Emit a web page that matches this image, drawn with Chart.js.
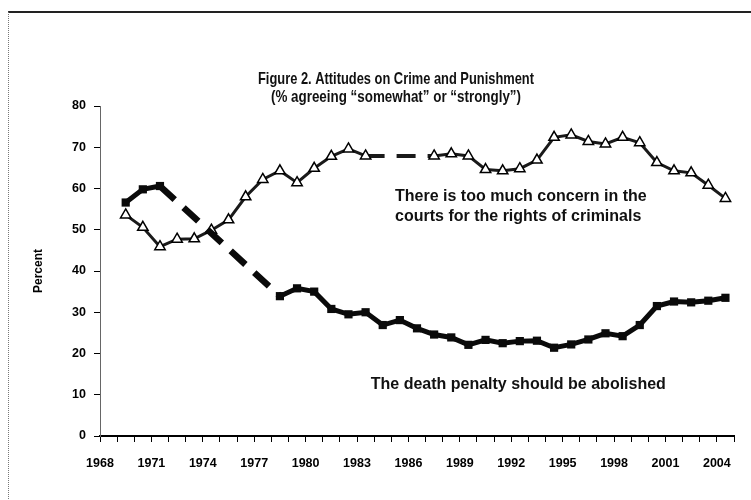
<!DOCTYPE html>
<html>
<head>
<meta charset="utf-8">
<script src="https://cdn.jsdelivr.net/npm/chart.js@4"></script>
<style>
  html, body { margin: 0; padding: 0; background: #fff; }
  #wrap { position: relative; width: 751px; height: 500px; overflow: hidden; }
  #frame {
    position: absolute; left: 8px; top: 11px; width: 800px; height: 600px;
    border-top: 2px solid #222; border-left: 1px dotted #777;
    pointer-events: none;
  }
</style>
</head>
<body>
<div id="wrap">
  <canvas id="chartCrime" width="751" height="500"></canvas>
  <div id="frame"></div>
</div>
<script>
// ---- data (points sit mid-year) ----
const concernYears = [
  1969.5, 1970.5, 1971.5, 1972.5, 1973.5, 1974.5, 1975.5, 1976.5, 1977.5, 1978.5,
  1979.5, 1980.5, 1981.5, 1982.5, 1983.5,
  1987.5, 1988.5, 1989.5, 1990.5, 1991.5, 1992.5, 1993.5, 1994.5, 1995.5, 1996.5,
  1997.5, 1998.5, 1999.5, 2000.5, 2001.5, 2002.5, 2003.5, 2004.5
];
const concernValues = [
  53.6, 50.6, 45.9, 47.7, 47.8, 49.9, 52.4, 58.0, 62.2, 64.3,
  61.4, 64.9, 67.8, 69.6, 67.9,
  67.9, 68.4, 67.9, 64.6, 64.3, 64.8, 66.9, 72.4, 73.0, 71.4,
  70.8, 72.4, 71.1, 66.3, 64.3, 63.8, 60.8, 57.6
];

const deathYears = [
  1969.5, 1970.5, 1971.5,
  1978.5, 1979.5, 1980.5, 1981.5, 1982.5, 1983.5, 1984.5, 1985.5, 1986.5, 1987.5,
  1988.5, 1989.5, 1990.5, 1991.5, 1992.5, 1993.5, 1994.5, 1995.5, 1996.5, 1997.5,
  1998.5, 1999.5, 2000.5, 2001.5, 2002.5, 2003.5, 2004.5
];
const deathValues = [
  56.6, 59.8, 60.6,
  33.9, 35.8, 35.0, 30.8, 29.5, 30.0, 26.9, 28.1, 26.1, 24.6,
  23.9, 22.1, 23.3, 22.5, 23.0, 23.1, 21.4, 22.2, 23.4, 24.9,
  24.2, 26.9, 31.5, 32.6, 32.4, 32.8, 33.5
];

const xTickLabels = [1968, 1971, 1974, 1977, 1980, 1983, 1986, 1989, 1992, 1995, 1998, 2001, 2004];

const titleLines = [
  'Figure 2. Attitudes on Crime and Punishment',
  '(% agreeing \u201csomewhat\u201d or \u201cstrongly\u201d)'
];
const concernLabel = ['There is too much concern in the', 'courts for the rights of criminals'];
const deathLabel = 'The death penalty should be abolished';

const FONT = '"Liberation Sans", Arial, Helvetica, sans-serif';

function toPoints(xs, ys) {
    return xs.map((x, i) => ({ x: x, y: ys[i] }));
}

// dashed where survey years are missing
function isGap(ctx) {
    return ctx.p1.parsed.x - ctx.p0.parsed.x > 1.5;
}

/* ==============================
   TEXTOS (título y rótulos)
================================ */
const textPlugin = {
    id: 'textos',
    afterDraw(chart) {
        const { ctx, scales } = chart;
        const x = scales.x, y = scales.y;
        ctx.save();
        ctx.fillStyle = '#111';
        ctx.textBaseline = 'middle';

        // the original title is set in a narrow face
        ctx.textAlign = 'center';
        ctx.font = 'bold 17px ' + FONT;
        ctx.fillText(titleLines[0], 396, 79, 276);
        ctx.fillText(titleLines[1], 396, 97, 250);

        ctx.textAlign = 'left';
        ctx.font = 'bold 16px ' + FONT;
        ctx.fillText(concernLabel[0], x.getPixelForValue(1985.22), y.getPixelForValue(58.0));
        ctx.fillText(concernLabel[1], x.getPixelForValue(1985.22), y.getPixelForValue(53.3));
        ctx.fillText(deathLabel, x.getPixelForValue(1983.8), y.getPixelForValue(12.5));
        ctx.restore();
    }
};

new Chart(document.getElementById('chartCrime'), {
    type: 'line',
    data: {
        datasets: [
            {
                label: 'The death penalty should be abolished',
                data: toPoints(deathYears, deathValues),
                borderColor: '#0a0a0a',
                backgroundColor: '#0a0a0a',
                borderWidth: 5,
                pointStyle: 'rect',
                pointRadius: 5.8,
                pointBorderWidth: 0,
                tension: 0,
                segment: {
                    borderDash: ctx => isGap(ctx) ? [20, 12] : undefined,
                    borderWidth: ctx => isGap(ctx) ? 6.5 : undefined
                }
            },
            {
                label: 'There is too much concern in the courts for the rights of criminals',
                data: toPoints(concernYears, concernValues),
                borderColor: '#1a1a1a',
                backgroundColor: '#ffffff',
                borderWidth: 3,
                pointStyle: 'triangle',
                pointRadius: 6,
                pointBorderColor: '#000',
                pointBorderWidth: 1.5,
                tension: 0,
                segment: {
                    borderDash: ctx => isGap(ctx) ? [19, 12] : undefined,
                    borderWidth: ctx => isGap(ctx) ? 4 : undefined
                }
            }
        ]
    },
    options: {
        responsive: false,
        animation: false,
        layout: { padding: { top: 106, left: 0, right: 17, bottom: 0 } },
        plugins: {
            legend: { display: false },
            title: { display: false },
            tooltip: { enabled: false }
        },
        scales: {
            x: {
                type: 'linear',
                min: 1968,
                max: 2005,
                afterFit: s => { s.height = 64; },
                border: { display: true, color: '#000', width: 2 },
                grid: { drawOnChartArea: false, drawTicks: true, tickLength: 6, color: '#000' },
                ticks: {
                    stepSize: 1,
                    autoSkip: false,
                    maxRotation: 0,
                    padding: 14,
                    color: '#000',
                    font: { family: FONT, size: 12.5, weight: 'bold' },
                    callback: v => xTickLabels.includes(v) ? String(v) : ''
                }
            },
            y: {
                min: 0,
                max: 80,
                afterFit: s => { s.width = 100; },
                border: { display: true, color: '#666', width: 1 },
                grid: { drawOnChartArea: false, drawTicks: true, tickLength: 6, color: '#000' },
                ticks: {
                    stepSize: 10,
                    padding: 8,
                    color: '#000',
                    font: { family: FONT, size: 12.5, weight: 'bold' }
                },
                title: {
                    display: true,
                    text: 'Percent',
                    color: '#000',
                    padding: { top: 31, bottom: 0 },
                    font: { family: FONT, size: 12, weight: 'bold' }
                }
            }
        }
    },
    plugins: [textPlugin]
});
</script>
</body>
</html>
